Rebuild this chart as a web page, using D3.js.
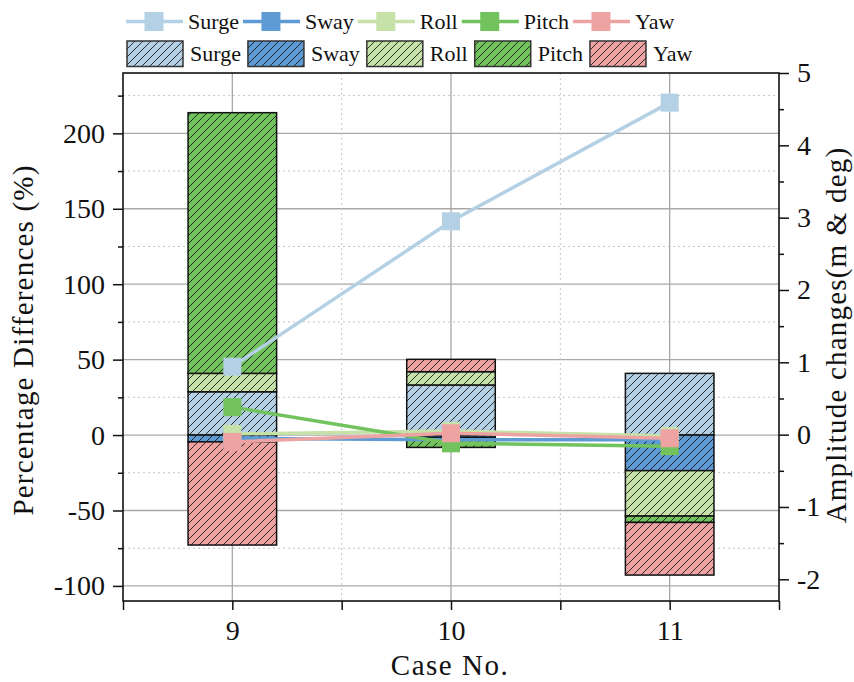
<!DOCTYPE html>
<html>
<head>
<meta charset="utf-8">
<script src="https://cdn.jsdelivr.net/npm/d3@7"></script>
<style>
  body { margin: 0; background: #fff; }
  text { font-family: "Liberation Serif", "Times New Roman", serif; fill: #111; }
</style>
</head>
<body>
<svg id="chart" width="854" height="682"></svg>
<script>
// ---- data ----
const cases = [9, 10, 11];
const dofNames = ["Surge", "Sway", "Roll", "Pitch", "Yaw"];
const dofColors = ["#b4d0e5", "#5e9bd4", "#c6e2a8", "#72c35e", "#eea3a3"];

// percentage differences (stacked bars, left axis)
const pctSurge = [28.7, 33.2, 40.9];
const pctSway  = [-4.5, -1.5, -23.6];
const pctRoll  = [12.2, 8.8, -30.1];
const pctPitch = [172.8, -6.7, -4.2];
const pctYaw   = [-68.4, 8.2, -34.9];

// amplitude changes (lines, right axis)
const ampSurge = [0.94, 2.95, 4.59];
const ampSway  = [-0.05, -0.07, -0.07];
const ampRoll  = [0.01, 0.05, -0.02];
const ampPitch = [0.38, -0.12, -0.16];
const ampYaw   = [-0.10, 0.02, -0.05];

const pctTicks = [-100, -50, 0, 50, 100, 150, 200];
const pctMinor = [-75, -25, 25, 75, 125, 175, 225];
const ampTicks = [-2, -1, 0, 1, 2, 3, 4, 5];
const ampMinor = [-1.5, -0.5, 0.5, 1.5, 2.5, 3.5, 4.5];
const caseMinor = [8.5, 9.5, 10.5, 11.5];

const pctSeries = [pctSurge, pctSway, pctRoll, pctPitch, pctYaw];
const ampSeries = [ampSurge, ampSway, ampRoll, ampPitch, ampYaw];

// ---- layout ----
const svg = d3.select("#chart");
const W = 854, H = 682;
const frame = { left: 123, right: 779, top: 73, bottom: 601 };

svg.append("rect").attr("width", W).attr("height", H).attr("fill", "#fff");

const x = d3.scaleLinear().domain([8.5, 11.5]).range([frame.left, frame.right]);
const yPct = d3.scaleLinear().domain([-110, 240]).range([frame.bottom, frame.top]);
const yAmp = d3.scaleLinear().domain([-2.3, 5]).range([frame.bottom, frame.top]);
const barHalf = 0.2025;

// hatch patterns
const defs = svg.append("defs");
dofColors.forEach((c, i) => {
  const p = defs.append("pattern")
    .attr("id", "hatch" + i)
    .attr("patternUnits", "userSpaceOnUse")
    .attr("width", 8).attr("height", 8);
  p.append("rect").attr("width", 8).attr("height", 8).attr("fill", c);
  p.append("path")
    .attr("d", "M-2,2 L2,-2 M0,8 L8,0 M6,10 L10,6")
    .attr("stroke", "#111").attr("stroke-width", 1).attr("stroke-opacity", 0.85);
});

// ---- grid ----
const grid = svg.append("g");
grid.selectAll(".hmaj").data(pctTicks).join("line")
  .attr("x1", frame.left).attr("x2", frame.right)
  .attr("y1", d => yPct(d)).attr("y2", d => yPct(d))
  .attr("stroke", "#a8a8a8").attr("stroke-width", 1.3);
grid.selectAll(".hmin").data(pctMinor).join("line")
  .attr("x1", frame.left).attr("x2", frame.right)
  .attr("y1", d => yPct(d)).attr("y2", d => yPct(d))
  .attr("stroke", "#c4c4c4").attr("stroke-width", 1).attr("stroke-dasharray", "2,3");
grid.selectAll(".vmaj").data(cases).join("line")
  .attr("x1", d => x(d)).attr("x2", d => x(d))
  .attr("y1", frame.top).attr("y2", frame.bottom)
  .attr("stroke", "#a8a8a8").attr("stroke-width", 1.3);
grid.selectAll(".vmin").data([9.5, 10.5]).join("line")
  .attr("x1", d => x(d)).attr("x2", d => x(d))
  .attr("y1", frame.top).attr("y2", frame.bottom)
  .attr("stroke", "#c4c4c4").attr("stroke-width", 1).attr("stroke-dasharray", "2,3");

// ---- stacked bars ----
const rows = cases.map((c, j) => {
  const r = { case: c };
  dofNames.forEach((n, i) => { r[n] = pctSeries[i][j]; });
  return r;
});
const stacked = d3.stack().keys(dofNames).offset(d3.stackOffsetDiverging)(rows);

const bars = svg.append("g");
stacked.forEach((layer, i) => {
  bars.selectAll(".b" + i).data(layer).join("rect")
    .attr("x", d => x(d.data.case - barHalf))
    .attr("width", d => x(d.data.case + barHalf) - x(d.data.case - barHalf))
    .attr("y", d => yPct(Math.max(d[0], d[1])))
    .attr("height", d => Math.abs(yPct(d[0]) - yPct(d[1])))
    .attr("fill", "url(#hatch" + i + ")")
    .attr("stroke", "#111").attr("stroke-width", 1.5);
});

// ---- lines with square markers ----
const lineGen = d3.line().x((d, j) => x(cases[j])).y(d => yAmp(d));
const ms = 18;
ampSeries.forEach((vals, i) => {
  const g = svg.append("g");
  g.append("path").attr("d", lineGen(vals))
    .attr("fill", "none").attr("stroke", dofColors[i]).attr("stroke-width", 3.5);
  g.selectAll("rect").data(vals).join("rect")
    .attr("x", (d, j) => x(cases[j]) - ms / 2)
    .attr("y", d => yAmp(d) - ms / 2)
    .attr("width", ms).attr("height", ms)
    .attr("fill", dofColors[i]);
});

// ---- axes ----
const tickFont = 28;
function styleAxis(g) {
  g.select(".domain").remove();
  g.selectAll(".tick line").attr("stroke", "#111").attr("stroke-width", 1.5);
  g.selectAll(".tick text").style("font-size", tickFont + "px")
    .style("font-family", '"Liberation Serif","Times New Roman",serif').attr("fill", "#111");
}
svg.append("g").attr("transform", `translate(${frame.left},0)`)
  .call(d3.axisLeft(yPct).tickValues(pctTicks).tickSize(10).tickPadding(8).tickFormat(d => String(d)))
  .call(styleAxis);
svg.append("g").attr("transform", `translate(${frame.left},0)`)
  .call(d3.axisLeft(yPct).tickValues(pctMinor).tickSize(5).tickFormat(""))
  .call(styleAxis);
svg.append("g").attr("transform", `translate(${frame.right},0)`)
  .call(d3.axisRight(yAmp).tickValues(ampTicks).tickSize(10).tickPadding(8).tickFormat(d => String(d)))
  .call(styleAxis);
svg.append("g").attr("transform", `translate(${frame.right},0)`)
  .call(d3.axisRight(yAmp).tickValues(ampMinor).tickSize(5).tickFormat(""))
  .call(styleAxis);
svg.append("g").attr("transform", `translate(0,${frame.bottom})`)
  .call(d3.axisBottom(x).tickValues(cases).tickSize(9).tickPadding(10).tickFormat(d => String(d)))
  .call(styleAxis);
svg.append("g").attr("transform", `translate(0,${frame.bottom})`)
  .call(d3.axisBottom(x).tickValues(caseMinor).tickSize(9).tickFormat(""))
  .call(styleAxis);

// frame
svg.append("rect")
  .attr("x", frame.left).attr("y", frame.top)
  .attr("width", frame.right - frame.left).attr("height", frame.bottom - frame.top)
  .attr("fill", "none").attr("stroke", "#111").attr("stroke-width", 1.6);

// ---- titles ----
svg.append("text")
  .attr("transform", `translate(33,340) rotate(-90)`)
  .attr("text-anchor", "middle").style("font-size", "29px").style("letter-spacing", "1.2px")
  .text("Percentage Differences (%)");
svg.append("text")
  .attr("transform", `translate(846,335) rotate(-90)`)
  .attr("text-anchor", "middle").style("font-size", "29px").style("letter-spacing", "1.2px")
  .text("Amplitude changes(m & deg)");
svg.append("text")
  .attr("x", 450).attr("y", 675)
  .attr("text-anchor", "middle").style("font-size", "29px").style("letter-spacing", "1.5px")
  .text("Case No.");

// ---- legend ----
const legFont = 22;
const leg1 = svg.append("g");
let lx = 126;
dofNames.forEach((n, i) => {
  const g = leg1.append("g");
  g.append("line").attr("x1", lx).attr("x2", lx + 57).attr("y1", 21.5).attr("y2", 21.5)
    .attr("stroke", dofColors[i]).attr("stroke-width", 3.5);
  g.append("rect").attr("x", lx + 18.5).attr("y", 12).attr("width", 19).attr("height", 19)
    .attr("fill", dofColors[i]);
  const t = g.append("text").attr("x", lx + 62).attr("y", 28.5)
    .style("font-size", legFont + "px").text(n);
  lx = lx + 62 + t.node().getComputedTextLength() + 4;
});
const leg2 = svg.append("g");
lx = 127;
dofNames.forEach((n, i) => {
  const g = leg2.append("g");
  g.append("rect").attr("x", lx).attr("y", 41).attr("width", 56).attr("height", 25.5)
    .attr("fill", "url(#hatch" + i + ")").attr("stroke", "#333").attr("stroke-width", 1.5);
  const t = g.append("text").attr("x", lx + 63).attr("y", 61)
    .style("font-size", legFont + "px").text(n);
  lx = lx + 63 + t.node().getComputedTextLength() + 7;
});
</script>
</body>
</html>
